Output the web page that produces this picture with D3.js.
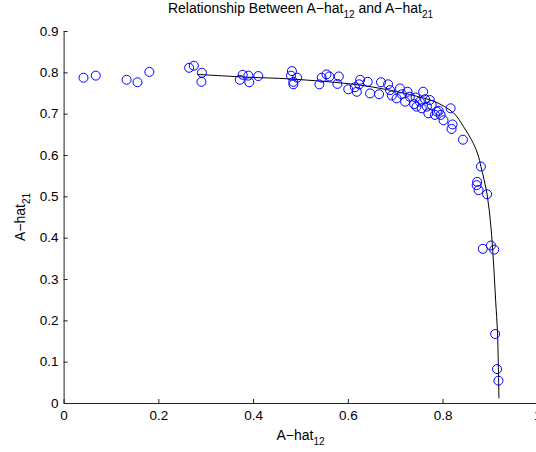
<!DOCTYPE html>
<html>
<head>
<meta charset="utf-8">
<script src="https://cdn.jsdelivr.net/npm/d3@7"></script>
<style>
  body { margin: 0; background: #fff; }
  svg { display: block; font-family: "Liberation Sans", Arial, sans-serif; }
</style>
</head>
<body>
<div id="chart"></div>
<script>
// scatter estimates (A-hat12, A-hat21)
const pointX = [
  0.042, 0.068, 0.133, 0.156, 0.181, 0.265, 0.275, 0.292, 0.291, 0.378,
  0.372, 0.390, 0.392, 0.411, 0.482, 0.480, 0.493, 0.485, 0.485, 0.540,
  0.545, 0.555, 0.561, 0.581, 0.578, 0.601, 0.615, 0.619, 0.626, 0.642,
  0.624, 0.647, 0.670, 0.685, 0.689, 0.666, 0.693, 0.710, 0.714, 0.726,
  0.731, 0.743, 0.759, 0.752, 0.740, 0.763, 0.773, 0.767, 0.777, 0.770,
  0.788, 0.703, 0.721, 0.745, 0.756, 0.817, 0.821, 0.819, 0.843, 0.802,
  0.796, 0.792, 0.784, 0.881, 0.873, 0.872, 0.876, 0.894, 0.885, 0.902,
  0.909, 0.911, 0.915, 0.918
];
const pointY = [
  0.787, 0.792, 0.782, 0.776, 0.801, 0.811, 0.816, 0.799, 0.777, 0.794,
  0.782, 0.792, 0.776, 0.791, 0.803, 0.792, 0.787, 0.777, 0.771, 0.771,
  0.787, 0.795, 0.790, 0.790, 0.772, 0.759, 0.764, 0.753, 0.782, 0.777,
  0.771, 0.749, 0.776, 0.771, 0.757, 0.747, 0.744, 0.761, 0.747, 0.753,
  0.741, 0.739, 0.753, 0.729, 0.723, 0.735, 0.733, 0.717, 0.721, 0.701,
  0.705, 0.737, 0.729, 0.717, 0.713, 0.713, 0.674, 0.663, 0.637, 0.684,
  0.697, 0.707, 0.697, 0.572, 0.535, 0.527, 0.515, 0.505, 0.373, 0.381,
  0.371, 0.167, 0.082, 0.054
];

// fitted curve
const curveX = [0.282, 0.393, 0.478, 0.626, 0.721, 0.752, 0.784, 0.823, 0.844, 0.865, 0.875, 0.881, 0.894, 0.902, 0.907, 0.912, 0.916, 0.919];
const curveY = [0.795, 0.788, 0.784, 0.769, 0.749, 0.740, 0.729, 0.702, 0.669, 0.628, 0.600, 0.572, 0.505, 0.427, 0.350, 0.249, 0.169, 0.011];

const xTicks = [0, 0.2, 0.4, 0.6, 0.8, 1];
const yTicks = [0, 0.1, 0.2, 0.3, 0.4, 0.5, 0.6, 0.7, 0.8, 0.9];

const width = 536, height = 452;

const svg = d3.select("#chart").append("svg")
  .attr("width", width)
  .attr("height", height);

const x = d3.scaleLinear().domain([0, 1]).range([63.6, 537.3]);
const y = d3.scaleLinear().domain([0, 0.9]).range([403, 31]);

const fmt = d => String(+d.toFixed(1));

const xAxis = svg.append("g")
  .attr("transform", `translate(0,${y(0)})`)
  .call(d3.axisBottom(x).tickValues(xTicks).tickFormat(fmt).tickSizeInner(-4).tickSizeOuter(0).tickPadding(7));

const yAxis = svg.append("g")
  .attr("transform", `translate(${x(0)},0)`)
  .call(d3.axisLeft(y).tickValues(yTicks).tickFormat(fmt).tickSizeInner(-4).tickSizeOuter(0).tickPadding(5));

[xAxis, yAxis].forEach(g => {
  g.select(".domain").attr("stroke", "#222").attr("stroke-width", 1);
  g.selectAll(".tick line").attr("stroke", "#222");
  g.selectAll(".tick text")
    .attr("font-size", 13.5)
    .attr("font-family", "Liberation Sans, Arial, sans-serif")
    .attr("fill", "#000");
});

const pts = pointX.map((v, i) => [v, pointY[i]]);
const fit = curveX.map((v, i) => [v, curveY[i]]);

svg.append("path")
  .datum(fit)
  .attr("fill", "none")
  .attr("stroke", "#000")
  .attr("stroke-width", 1)
  .attr("d", d3.line().x(d => x(d[0])).y(d => y(d[1])).curve(d3.curveCatmullRom.alpha(0.5)));

svg.append("g").selectAll("circle")
  .data(pts)
  .enter()
  .append("circle")
  .attr("cx", d => x(d[0]))
  .attr("cy", d => y(d[1]))
  .attr("r", 4.5)
  .attr("fill", "none")
  .attr("stroke", "#0000ff")
  .attr("stroke-width", 1);

// title and axis labels with subscripts
function subLabel(parent, main, sub, extra) {
  const t = parent.append("text")
    .attr("font-size", 14)
    .attr("fill", "#000")
    .attr("text-anchor", "middle");
  t.append("tspan").text(main);
  t.append("tspan").attr("font-size", 10).attr("dy", 5).text(sub);
  if (extra) {
    t.append("tspan").attr("dy", -5).text(extra[0]);
    t.append("tspan").attr("font-size", 10).attr("dy", 5).text(extra[1]);
  }
  return t;
}

subLabel(svg, "Relationship Between A\u2212hat", "12", [" and A\u2212hat", "21"])
  .attr("x", (x(0) + x(1)) / 2)
  .attr("y", 12.5);

subLabel(svg, "A\u2212hat", "12")
  .attr("x", (x(0) + x(1)) / 2)
  .attr("y", 440);

subLabel(svg, "A\u2212hat", "21")
  .attr("transform", `translate(25,${(y(0) + y(0.9)) / 2}) rotate(-90)`);
</script>
</body>
</html>
